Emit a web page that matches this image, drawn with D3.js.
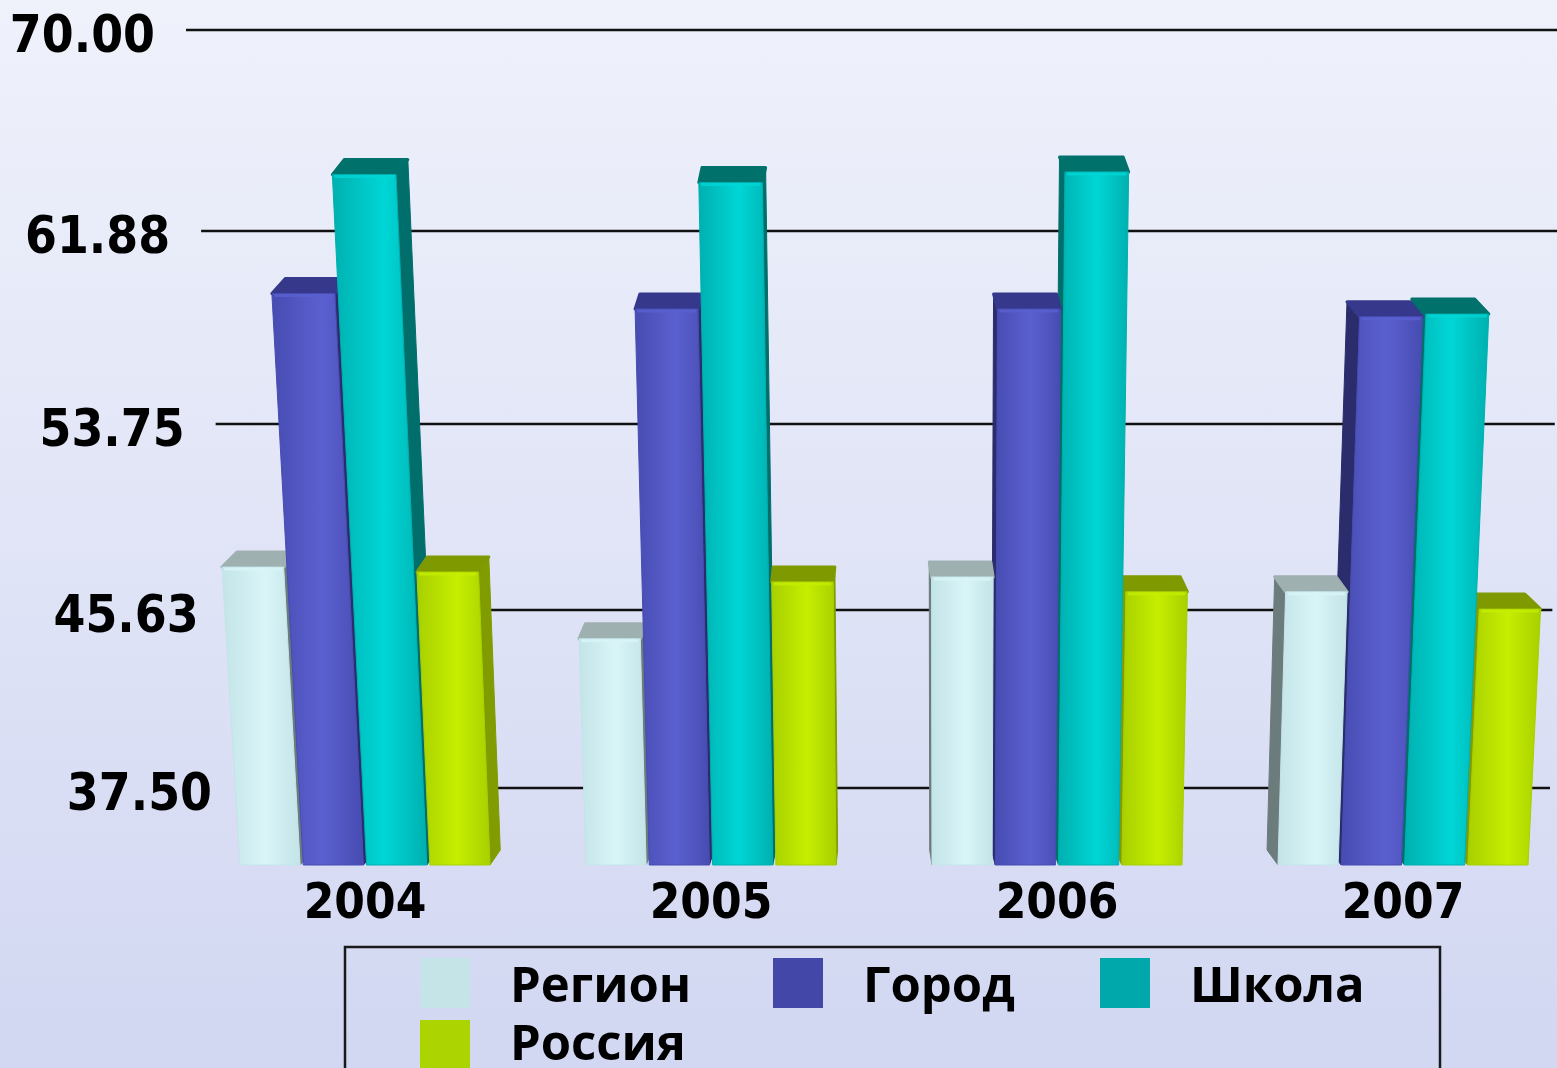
<!DOCTYPE html>
<html>
<head>
<meta charset="utf-8">
<script src="https://cdn.jsdelivr.net/npm/d3@7"></script>
<style>
    html, body { margin: 0; padding: 0; overflow: hidden; }
    .tick-label, .year-label { font-family: "DejaVu Sans Condensed", "DejaVu Sans", sans-serif; font-stretch: condensed; font-weight: bold; fill: #000; }
    .legend-text { font-family: "Open Sans", "Noto Sans", sans-serif; font-weight: bold; fill: #000; }
</style>
</head>
<body>
<div id="chart"></div>
<script>
// data
var years = ["2004", "2005", "2006", "2007"];
var seriesNames = ["Регион", "Город", "Школа", "Россия"];
var region = [49.9, 47.0, 49.5, 48.9];
var city = [60.7, 60.1, 60.1, 59.8];
var school = [65.2, 64.9, 65.3, 59.9];
var russia = [49.7, 49.3, 48.9, 48.2];
var tickValues = [37.5, 45.625, 53.75, 61.875, 70];
var tickLabels = ["37.50", "45.63", "53.75", "61.88", "70.00"];

var seriesValues = [region, city, school, russia];

// colours: front gradient (edge, middle), top face, side face, legend swatch
var palette = [
    { edge: "#c3e4e8", mid: "#d9f5f7", top: "#9fb0b1", side: "#6c7b7c", swatch: "#c5e4e8" },
    { edge: "#474cb2", mid: "#5b60d0", top: "#36388c", side: "#2a2c6c", swatch: "#4348a8" },
    { edge: "#00b0b0", mid: "#00d6d6", top: "#00716b", side: "#006f6c", swatch: "#00a8ac" },
    { edge: "#a8d000", mid: "#c6ee00", top: "#7f9900", side: "#819c00", swatch: "#acd400" }
];

var svgWidth = 1557;
var svgHeight = 1068;

var svg = d3.select("#chart")
    .append("svg")
    .attr("width", svgWidth)
    .attr("height", svgHeight);

var defs = svg.append("defs");

// background
var bg = defs.append("linearGradient")
    .attr("id", "bg")
    .attr("x1", 0).attr("y1", 0).attr("x2", 0).attr("y2", 1);
bg.append("stop").attr("offset", "0%").attr("stop-color", "#eff2fb");
bg.append("stop").attr("offset", "100%").attr("stop-color", "#d2d7f2");

svg.append("rect")
    .attr("width", svgWidth)
    .attr("height", svgHeight)
    .attr("fill", "url(#bg)");

palette.forEach(function(p, i) {
    var g = defs.append("linearGradient")
        .attr("id", "front" + i)
        .attr("x1", 0).attr("y1", 0).attr("x2", 1).attr("y2", 0);
    g.append("stop").attr("offset", "0%").attr("stop-color", p.edge);
    g.append("stop").attr("offset", "55%").attr("stop-color", p.mid);
    g.append("stop").attr("offset", "100%").attr("stop-color", p.edge);
});

// scales
// back wall (gridlines) is a little foreshortened
var wallY = d3.scaleLinear()
    .domain(tickValues)
    .range([788, 610, 424, 231, 30]);

var baseY = 865;
var frontScale = 1.08;
function barY(v) {
    return baseY - (wallY(tickValues[0]) - wallY(v)) * frontScale;
}

var xGroup = d3.scalePoint()
    .domain(years)
    .range([365, 1403]);

var xSeries = d3.scaleBand()
    .domain(seriesNames)
    .range([-125, 125])
    .paddingInner(0.05);

// perspective helpers
var leanCenter = 950, leanK = 8.5e-5;
function px(x, y) {
    return leanCenter + (x - leanCenter) * (1 + leanK * (baseY - y));
}
var vanishX = 870, depthK = 0.025, depthY = 15;

// gridlines + tick labels
var gridGroup = svg.append("g");
tickValues.forEach(function(v, i) {
    var y = wallY(v);
    var xStart = 186 + (y - 30) * 0.0752;
    var xEnd = 1560 - (y - 30) * 0.0132;
    gridGroup.append("line")
        .attr("x1", xStart).attr("x2", xEnd)
        .attr("y1", y).attr("y2", y)
        .attr("stroke", "#111")
        .attr("stroke-width", 2.5);
    gridGroup.append("text")
        .attr("class", "tick-label")
        .attr("x", xStart - 31)
        .attr("y", y + 22)
        .attr("text-anchor", "end")
        .attr("font-size", 51)
        .text(tickLabels[i]);
});

// bars
var bars = [];
years.forEach(function(year, i) {
    seriesNames.forEach(function(name, j) {
        var xl = xGroup(year) + xSeries(name);
        bars.push({
            s: j,
            value: seriesValues[j][i],
            xl: xl,
            xr: xl + xSeries.bandwidth()
        });
    });
});
// paint the bars farthest from the vanishing point first
bars.sort(function(a, b) {
    return Math.abs((b.xl + b.xr) / 2 - vanishX) - Math.abs((a.xl + a.xr) / 2 - vanishX);
});

var barGroup = svg.append("g");
var line = d3.line();

bars.forEach(function(d) {
    var yt = barY(d.value);
    var dx = (vanishX - (d.xl + d.xr) / 2) * depthK;
    var p = palette[d.s];

    var fl = [px(d.xl, yt), yt], fr = [px(d.xr, yt), yt];
    var bl = [d.xl, baseY], br = [d.xr, baseY];

    // side face
    var sideTop = dx > 0 ? fr : fl;
    var sideBot = dx > 0 ? br : bl;
    barGroup.append("path")
        .attr("d", line([sideBot, sideTop, [sideTop[0] + dx, yt - depthY], [sideBot[0] + dx, baseY - depthY]]) + "Z")
        .attr("fill", p.side)
        .attr("stroke", p.side)
        .attr("stroke-width", 1);

    // top face
    barGroup.append("path")
        .attr("d", line([fl, fr, [fr[0] + dx, yt - depthY], [fl[0] + dx, yt - depthY]]) + "Z")
        .attr("fill", p.top)
        .attr("stroke", p.top)
        .attr("stroke-width", 3)
        .attr("stroke-linejoin", "round");

    // front face
    barGroup.append("path")
        .attr("d", line([bl, fl, fr, br]) + "Z")
        .attr("fill", "url(#front" + d.s + ")")
        .attr("stroke", p.edge)
        .attr("stroke-width", 1)
        .attr("stroke-linejoin", "round");

    // soft bevel highlight along the top edge
    barGroup.append("path")
        .attr("d", line([[fl[0] + 2, yt + 2], [fr[0] - 2, yt + 2]]))
        .attr("stroke", p.mid)
        .attr("stroke-width", 3)
        .attr("opacity", 0.8);
});

// year labels
svg.append("g")
    .selectAll("text")
    .data(years)
    .enter()
    .append("text")
    .attr("class", "year-label")
    .attr("x", d => xGroup(d))
    .attr("y", 918)
    .attr("text-anchor", "middle")
    .attr("font-size", 49)
    .text(d => d);

// legend
var legend = svg.append("g");
legend.append("rect")
    .attr("x", 345)
    .attr("y", 947)
    .attr("width", 1095)
    .attr("height", 140)
    .attr("fill", "none")
    .attr("stroke", "#1a1a1a")
    .attr("stroke-width", 2.5);

var legendCols = [420, 773, 1100];
seriesNames.forEach(function(name, i) {
    var col = i % 3, row = Math.floor(i / 3);
    var x = legendCols[col];
    var y = 958 + row * 62;
    legend.append("rect")
        .attr("x", x)
        .attr("y", y)
        .attr("width", 50)
        .attr("height", 50)
        .attr("fill", palette[i].swatch);
    legend.append("text")
        .attr("class", "legend-text")
        .attr("x", x + 90)
        .attr("y", y + 44 - row * 4)
        .attr("font-size", 49)
        .text(name);
});
</script>
</body>
</html>
